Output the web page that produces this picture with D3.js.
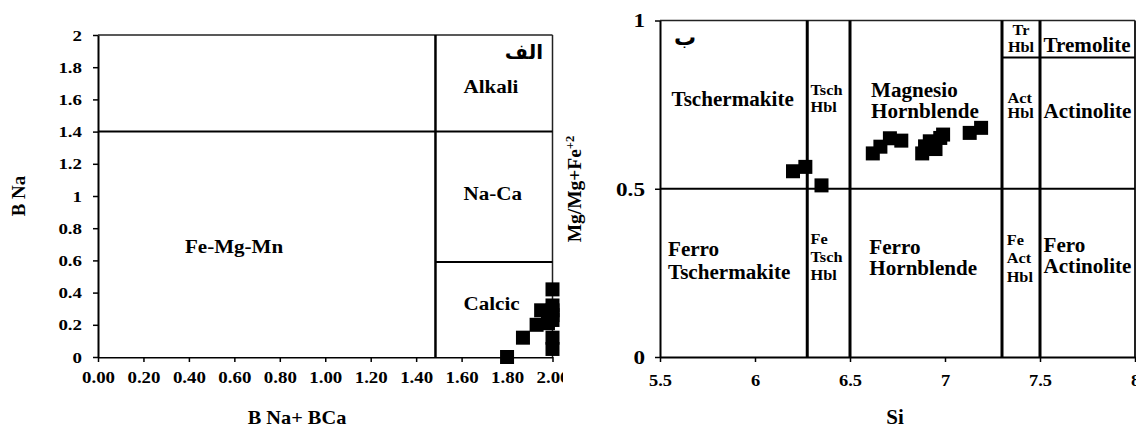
<!DOCTYPE html>
<html>
<head>
<meta charset="utf-8">
<script src="https://cdn.jsdelivr.net/npm/d3@7"></script>
<style>
  html,body{margin:0;padding:0;background:#fff;}
  svg{display:block;}
</style>
</head>
<body>
<svg id="chart" width="1136" height="428"></svg>
<script>
// ---------- data ----------
// Left diagram (B Na vs B Na + B Ca)
const leftXTicks = [0, 0.2, 0.4, 0.6, 0.8, 1.0, 1.2, 1.4, 1.6, 1.8, 2.0];
const leftYTicks = [0, 0.2, 0.4, 0.6, 0.8, 1.0, 1.2, 1.4, 1.6, 1.8, 2.0];
const leftX = [1.80, 1.87, 1.93, 1.95, 1.98, 2.00, 2.00, 2.00, 2.00, 2.00, 2.00, 2.00];
const leftY = [0.00, 0.12, 0.20, 0.29, 0.21, 0.42, 0.32, 0.29, 0.26, 0.23, 0.12, 0.05];
const leftVLine = [1.485];          // B Na + B Ca boundary
const leftHLineFull = [1.4];        // Alkali / Na-Ca and Fe-Mg-Mn upper limit
const leftHLinePart = [0.59];       // Na-Ca / Calcic
const leftLabels = ["Alkali", "Na-Ca", "Calcic", "Fe-Mg-Mn"];

// Right diagram (Mg/Mg+Fe2 vs Si)
const rightXTicks = [5.5, 6, 6.5, 7, 7.5, 8];
const rightYTicks = [0, 0.5, 1];
const rightX = [6.20, 6.265, 6.35, 6.62, 6.66, 6.71, 6.77, 6.88, 6.895, 6.92, 6.95, 6.975, 6.99, 7.13, 7.19];
const rightY = [0.552, 0.565, 0.51, 0.605, 0.625, 0.65, 0.643, 0.605, 0.626, 0.641, 0.618, 0.651, 0.661, 0.666, 0.681];
const rightVLines = [6.275, 6.5, 7.3, 7.5];
const rightHLineFull = [0.5];
const rightHLinePart = [0.89];

// ---------- setup ----------
const FONT = '"Liberation Serif","Times New Roman",serif';
const svg = d3.select("#chart");

function txt(g, x, y, s, size, sx, anchor, rot) {
  const t = g.append("text")
    .attr("transform", `translate(${x},${y})` + (rot ? ` rotate(${rot})` : "") + ` scale(${sx},1)`)
    .attr("font-family", FONT)
    .attr("font-weight", "bold")
    .attr("font-size", size)
    .attr("fill", "#000")
    .attr("text-anchor", anchor || "start");
  if (typeof s === "string") t.text(s);
  return t;
}

// ================= LEFT CHART =================
const xL = d3.scaleLinear().domain([0, 2]).range([98, 552.5]);
const yL = d3.scaleLinear().domain([0, 2]).range([357, 35]);
const gL = svg.append("g");

// border (top/right)
gL.append("line").attr("x1", xL(0)).attr("x2", xL(2)).attr("y1", yL(2)).attr("y2", yL(2))
  .attr("stroke", "#222").attr("stroke-width", 1.5);
gL.append("line").attr("x1", xL(2)).attr("x2", xL(2)).attr("y1", yL(2)).attr("y2", yL(0))
  .attr("stroke", "#222").attr("stroke-width", 1.5);

// field boundaries
gL.selectAll(".vl").data(leftVLine).enter().append("line")
  .attr("x1", d => xL(d)).attr("x2", d => xL(d)).attr("y1", yL(2)).attr("y2", yL(0))
  .attr("stroke", "#000").attr("stroke-width", 2.5);
gL.selectAll(".hf").data(leftHLineFull).enter().append("line")
  .attr("x1", xL(0)).attr("x2", xL(2)).attr("y1", d => yL(d)).attr("y2", d => yL(d))
  .attr("stroke", "#000").attr("stroke-width", 2);
gL.selectAll(".hp").data(leftHLinePart).enter().append("line")
  .attr("x1", xL(leftVLine[0])).attr("x2", xL(2)).attr("y1", d => yL(d)).attr("y2", d => yL(d))
  .attr("stroke", "#000").attr("stroke-width", 2);

// clip for x tick labels (last label is cut in the reference)
svg.append("defs").append("clipPath").attr("id", "clipL")
  .append("rect").attr("x", 0).attr("y", 0).attr("width", 563).attr("height", 428);

// axes
const axLX = gL.append("g").attr("transform", `translate(0,${yL(0)})`).attr("clip-path", "url(#clipL)")
  .call(d3.axisBottom(xL).tickValues(leftXTicks).tickFormat(d3.format(".2f")).tickSize(5).tickSizeOuter(0));
const axLY = gL.append("g").attr("transform", `translate(${xL(0)},0)`)
  .call(d3.axisLeft(yL).tickValues(leftYTicks).tickFormat(d => String(+d.toFixed(1))).tickSize(5).tickSizeOuter(0));

[axLX, axLY].forEach(a => {
  a.select(".domain").attr("stroke", "#000").attr("stroke-width", 2);
  a.selectAll(".tick line").attr("stroke", "#000").attr("stroke-width", 1.5);
});
axLX.selectAll(".tick text").attr("x", 0).attr("y", 0).attr("dy", 0)
  .attr("transform", "translate(0,26) scale(1.18,1)")
  .attr("font-family", FONT).attr("font-weight", "bold").attr("font-size", 16).attr("fill", "#000");
axLY.selectAll(".tick text").attr("x", 0).attr("dy", "0.33em")
  .attr("transform", "translate(-16,0) scale(1.22,1)")
  .attr("font-family", FONT).attr("font-weight", "bold").attr("font-size", 15.5).attr("fill", "#000");

// points
gL.selectAll(".pt").data(leftX.map((x, i) => [x, leftY[i]])).enter().append("rect")
  .attr("x", d => xL(d[0]) - 7).attr("y", d => yL(d[1]) - 7)
  .attr("width", 14).attr("height", 14).attr("fill", "#000");

// labels
txt(gL, 463.5, 92.5, leftLabels[0], 19.5, 1.08);
txt(gL, 463.5, 200, leftLabels[1], 19.5, 1.08);
txt(gL, 463.5, 310, leftLabels[2], 19.5, 1.08);
txt(gL, 185, 253, leftLabels[3], 19.5, 1.08);
gL.append("text").attr("x", 543).attr("y", 59).attr("text-anchor", "end")
  .attr("font-family", '"DejaVu Sans", sans-serif').attr("font-weight", "bold").attr("font-size", 20)
  .attr("fill", "#000").text("الف");

// axis titles
txt(gL, 297, 424, "B Na+ BCa", 18.5, 1.1, "middle");
txt(gL, 24.5, 196, "B Na", 18, 1.05, "middle", -90);

// ================= RIGHT CHART =================
const xR = d3.scaleLinear().domain([5.5, 8]).range([660, 1135]);
const yR = d3.scaleLinear().domain([0, 1]).range([357, 20.5]);
const gR = svg.append("g");

gR.append("line").attr("x1", xR(5.5)).attr("x2", xR(8)).attr("y1", yR(1)).attr("y2", yR(1))
  .attr("stroke", "#222").attr("stroke-width", 1.5);
gR.append("line").attr("x1", xR(8)).attr("x2", xR(8)).attr("y1", yR(1)).attr("y2", yR(0))
  .attr("stroke", "#222").attr("stroke-width", 2);

gR.selectAll(".vl").data(rightVLines).enter().append("line")
  .attr("x1", d => xR(d)).attr("x2", d => xR(d)).attr("y1", yR(1)).attr("y2", yR(0))
  .attr("stroke", "#000").attr("stroke-width", 3);
gR.selectAll(".hf").data(rightHLineFull).enter().append("line")
  .attr("x1", xR(5.5)).attr("x2", xR(8)).attr("y1", d => yR(d)).attr("y2", d => yR(d))
  .attr("stroke", "#000").attr("stroke-width", 2);
gR.selectAll(".hp").data(rightHLinePart).enter().append("line")
  .attr("x1", xR(7.3)).attr("x2", xR(8)).attr("y1", d => yR(d)).attr("y2", d => yR(d))
  .attr("stroke", "#000").attr("stroke-width", 2);

const axRX = gR.append("g").attr("transform", `translate(0,${yR(0)})`)
  .call(d3.axisBottom(xR).tickValues(rightXTicks).tickFormat(d => String(d)).tickSize(5).tickSizeOuter(0));
const axRY = gR.append("g").attr("transform", `translate(${xR(5.5)},0)`)
  .call(d3.axisLeft(yR).tickValues(rightYTicks).tickFormat(d => String(d)).tickSize(5).tickSizeOuter(0));
[axRX, axRY].forEach(a => {
  a.select(".domain").attr("stroke", "#000").attr("stroke-width", 2);
  a.selectAll(".tick line").attr("stroke", "#000").attr("stroke-width", 1.5);
});
axRX.selectAll(".tick text").attr("x", 0).attr("y", 0).attr("dy", 0)
  .attr("transform", "translate(0,28.5) scale(1.15,1)")
  .attr("font-family", FONT).attr("font-weight", "bold").attr("font-size", 16).attr("fill", "#000");
axRY.selectAll(".tick text").attr("x", 0).attr("dy", "0.33em")
  .attr("transform", "translate(-15,0) scale(1.22,1)")
  .attr("font-family", FONT).attr("font-weight", "bold").attr("font-size", 19).attr("fill", "#000");

gR.selectAll(".pt").data(rightX.map((x, i) => [x, rightY[i]])).enter().append("rect")
  .attr("x", d => xR(d[0]) - 7).attr("y", d => yR(d[1]) - 7)
  .attr("width", 14).attr("height", 14).attr("fill", "#000");

// region labels
const big = 20.5, small = 15.5;
txt(gR, 671.5, 106, "Tschermakite", big, 1.03);
txt(gR, 810.5, 95, "Tsch", small, 1.05);
txt(gR, 810.5, 112, "Hbl", small, 1.05);
txt(gR, 871, 96.5, "Magnesio", big, 1.03);
txt(gR, 871, 118.3, "Hornblende", big, 1.03);
txt(gR, 1021, 35, "Tr", small, 1.05, "middle");
txt(gR, 1021, 51.7, "Hbl", small, 1.05, "middle");
txt(gR, 1043.5, 52, "Tremolite", big, 1.03);
txt(gR, 1007.5, 103.3, "Act", small, 1.05);
txt(gR, 1007.5, 118.3, "Hbl", small, 1.05);
txt(gR, 1043.5, 118.3, "Actinolite", big, 1.03);

txt(gR, 668, 256, "Ferro", big, 1.03);
txt(gR, 668, 279, "Tschermakite", big, 1.03);
txt(gR, 810.5, 244, "Fe", small, 1.05);
txt(gR, 810.5, 261.7, "Tsch", small, 1.05);
txt(gR, 810.5, 280, "Hbl", small, 1.05);
txt(gR, 869.3, 254, "Ferro", big, 1.03);
txt(gR, 869.3, 275, "Hornblende", big, 1.03);
txt(gR, 1006.7, 245, "Fe", small, 1.05);
txt(gR, 1006.7, 263.3, "Act", small, 1.05);
txt(gR, 1006.7, 281.7, "Hbl", small, 1.05);
txt(gR, 1043.5, 252, "Fero", big, 1.03);
txt(gR, 1043.5, 273.3, "Actinolite", big, 1.03);

gR.append("text").attr("x", 685).attr("y", 45).attr("text-anchor", "middle")
  .attr("font-family", '"DejaVu Sans", sans-serif').attr("font-weight", "bold").attr("font-size", 22)
  .attr("fill", "#000").text("ب");

// axis titles
txt(gR, 895, 424, "Si", 20, 1.05, "middle");
const yt = txt(gR, 581, 189, null, 18.5, 1.05, "middle", -90);
yt.append("tspan").text("Mg/Mg+Fe");
yt.append("tspan").attr("font-size", 12).attr("dy", "-0.6em").text("+2");
</script>
</body>
</html>
